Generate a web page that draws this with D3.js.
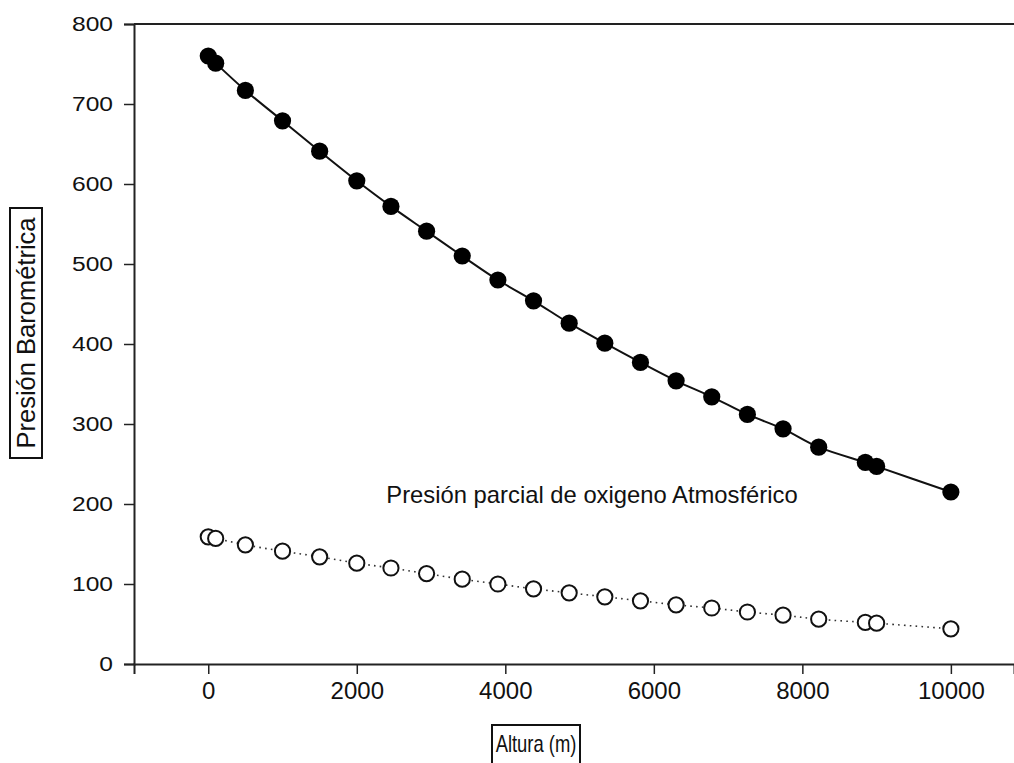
<!DOCTYPE html>
<html>
<head>
<meta charset="utf-8">
<script src="https://cdn.jsdelivr.net/npm/d3@7"></script>
<style>
  body { margin: 0; background: #fff; }
  svg { display: block; font-family: "Liberation Sans", Arial, sans-serif; }
</style>
</head>
<body>
<svg id="chart" width="1014" height="763"></svg>
<script>
// Data
const altura = [0, 100, 500, 1000, 1500, 2000, 2460, 2940, 3420, 3900, 4380, 4860, 5340, 5820, 6300, 6780, 7260, 7740, 8220, 8848, 9000, 10000];
const presionBarometrica = [760, 751, 717, 679, 641, 604, 572, 541, 510, 480, 454, 426, 401, 377, 354, 334, 312, 294, 271, 252, 247, 215];
const presionO2 = [159, 157, 149, 141, 134, 126, 120, 113, 106, 100, 94, 89, 84, 79, 74, 70, 65, 61, 56, 52, 51, 44];
const xTicks = [0, 2000, 4000, 6000, 8000, 10000];
const yTicks = [0, 100, 200, 300, 400, 500, 600, 700, 800];
const xTitle = "Altura (m)";
const yTitle = "Presión Barométrica";
const annotation = "Presión parcial de oxigeno Atmosférico";

const svg = d3.select("#chart");
const x = d3.scaleLinear().domain([-1000, 10850]).range([134, 1014]);
const y = d3.scaleLinear().domain([0, 800]).range([664, 24]);

// frame top line
svg.append("line").attr("x1", x.range()[0]).attr("x2", x.range()[1])
  .attr("y1", y(800)).attr("y2", y(800)).attr("stroke", "#222").attr("stroke-width", 2);

// axes
const xAxis = svg.append("g").attr("transform", `translate(0,${y(0)})`)
  .call(d3.axisBottom(x).tickValues(xTicks).tickSize(10).tickPadding(14).tickFormat(d3.format("d")));
const yAxis = svg.append("g").attr("transform", `translate(${x(-1000)},0)`)
  .call(d3.axisLeft(y).tickValues(yTicks).tickSize(10).tickPadding(11).tickFormat(d3.format("d")));
[xAxis, yAxis].forEach(g => {
  g.select(".domain").attr("stroke", "#222").attr("stroke-width", 2);
  g.selectAll(".tick line").attr("stroke", "#222").attr("stroke-width", 1.5);
  g.selectAll(".tick text").attr("fill", "#111")
    .style("font-family", "'Liberation Sans', Arial, sans-serif");
});
xAxis.selectAll(".tick text").style("font-size", "24px").attr("y", 18).attr("dy", "0.72em");
const sx = 1.2;
yAxis.selectAll(".tick text").style("font-size", "20.5px")
  .attr("x", -21 / sx).attr("transform", `scale(${sx},1)`);

// lines
const line1 = d3.line().x((d, i) => x(altura[i])).y(d => y(d)).curve(d3.curveCatmullRom);
svg.append("path").datum(presionBarometrica).attr("d", line1)
  .attr("fill", "none").attr("stroke", "#111").attr("stroke-width", 2);
svg.append("path").datum(presionO2).attr("d", line1)
  .attr("fill", "none").attr("stroke", "#333").attr("stroke-width", 1.6)
  .attr("stroke-dasharray", "1.6,4.2");

// points
svg.append("g").selectAll("circle").data(presionBarometrica).join("circle")
  .attr("cx", (d, i) => x(altura[i])).attr("cy", d => y(d)).attr("r", 8.6)
  .attr("fill", "#000");
svg.append("g").selectAll("circle").data(presionO2).join("circle")
  .attr("cx", (d, i) => x(altura[i])).attr("cy", d => y(d)).attr("r", 7.6)
  .attr("fill", "#fff").attr("stroke", "#111").attr("stroke-width", 2);

// annotation
svg.append("text").attr("x", 592).attr("y", 503).attr("text-anchor", "middle")
  .style("font-size", "23.8px").attr("fill", "#111").text(annotation);

// x title box
const xt = svg.append("g").attr("transform", "translate(536,744)");
xt.append("rect").attr("x", -44).attr("y", -19).attr("width", 88).attr("height", 40)
  .attr("fill", "#fff").attr("stroke", "#111").attr("stroke-width", 2);
xt.append("text").attr("text-anchor", "middle").attr("dy", "0.36em")
  .attr("transform", "scale(0.8,1)")
  .style("font-size", "23px").attr("fill", "#111").text(xTitle);

// y title box
const yt = svg.append("g").attr("transform", "translate(26,333) rotate(-90)");
yt.append("rect").attr("x", -125).attr("y", -16).attr("width", 250).attr("height", 32)
  .attr("fill", "#fff").attr("stroke", "#111").attr("stroke-width", 2);
yt.append("text").attr("text-anchor", "middle").attr("dy", "0.36em")
  .style("font-size", "25.5px").attr("fill", "#111").text(yTitle);
</script>
</body>
</html>
